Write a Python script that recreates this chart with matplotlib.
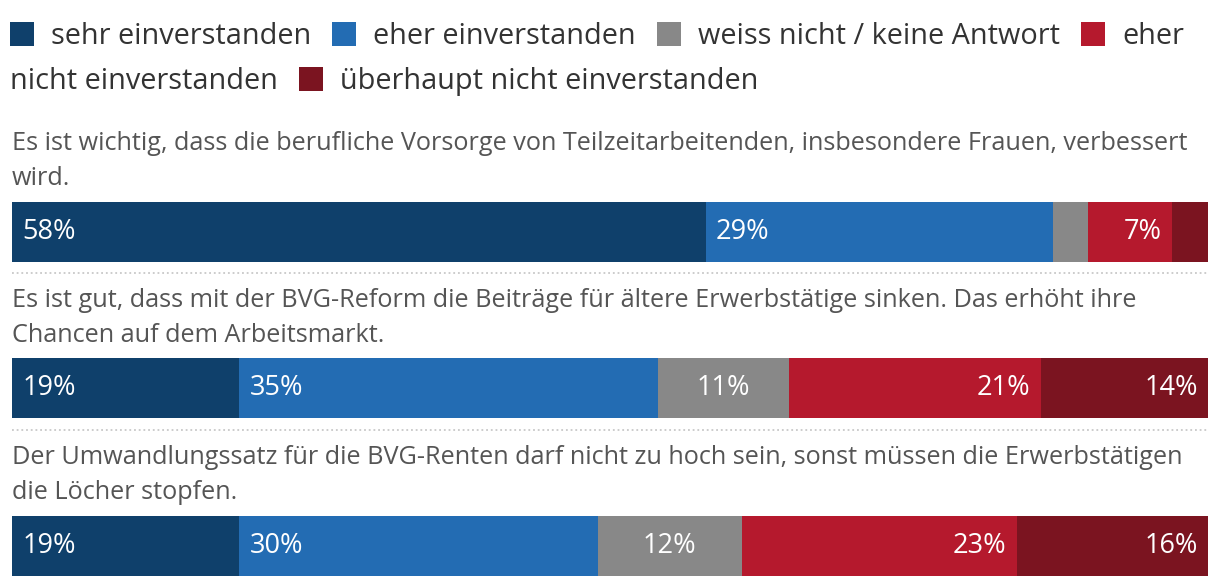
import matplotlib
matplotlib.use("Agg")
import matplotlib.pyplot as plt
from matplotlib.patches import Rectangle

plt.rcParams['font.family'] = ['Open Sans', 'DejaVu Sans']

categories = ["sehr einverstanden", "eher einverstanden", "weiss nicht / keine Antwort",
              "eher nicht einverstanden", "überhaupt nicht einverstanden"]
colors = ["#0f406b", "#236cb3", "#888888", "#b5192d", "#7b1420"]

questions = [
    "Es ist wichtig, dass die berufliche Vorsorge von Teilzeitarbeitenden, insbesondere Frauen, verbessert\nwird.",
    "Es ist gut, dass mit der BVG-Reform die Beiträge für ältere Erwerbstätige sinken. Das erhöht ihre\nChancen auf dem Arbeitsmarkt.",
    "Der Umwandlungssatz für die BVG-Renten darf nicht zu hoch sein, sonst müssen die Erwerbstätigen\ndie Löcher stopfen.",
]
values = [
    [58, 29, 3, 7, 3],
    [19, 35, 11, 21, 14],
    [19, 30, 12, 23, 16],
]

W, H = 1220, 588
fig = plt.figure(figsize=(W / 100, H / 100), dpi=100)
ax = fig.add_axes([12 / W, 0, 1196 / W, 1])
ax.set_xlim(0, 100)
ax.set_ylim(H, 0)
ax.axis("off")

bar_centers = [232, 388, 546]
bar_h = 60
title_base = [150, 307, 464]   # baseline of first title line (px from top)
title_gap = 35
sep_y = [273, 430]
FS = 18.2
LBL_FS = 19.5
LEG_FS = 20.8

for qi, (q, vals) in enumerate(zip(questions, values)):
    left = 0
    yc = bar_centers[qi]
    for ci, v in enumerate(vals):
        ax.barh(yc, v, left=left, height=bar_h, color=colors[ci], linewidth=0)
        if v >= 5:
            if ci < 2:
                ax.text(left + 0.85, yc, f"{v}%", color="white", fontsize=LBL_FS,
                        va="center", ha="left")
            elif ci == 2:
                ax.text(left + v / 2, yc, f"{v}%", color="white", fontsize=LBL_FS,
                        va="center", ha="center")
            else:
                ax.text(left + v - 0.85, yc, f"{v}%", color="white", fontsize=LBL_FS,
                        va="center", ha="right")
        left += v
    for li, line in enumerate(q.split("\n")):
        fig.text(12 / W, 1 - (title_base[qi] + li * title_gap) / H, line, fontsize=FS,
                 color="#555555", va="baseline", ha="left")

for y in sep_y:
    ax.plot([0, 100], [y, y], color="#c8c8c8", linestyle=(0, (1, 1.6)), linewidth=1.3)

# legend (manual flow layout, wraps like reference)
fig.canvas.draw()
renderer = fig.canvas.get_renderer()
rows_base = [44, 89]
x = 10
row = 0
sq = 24
items = [(colors[0], [categories[0]]), (colors[1], [categories[1]]), (colors[2], [categories[2]]),
         (colors[3], ["eher", "nicht einverstanden"]), (colors[4], [categories[4]])]
for col, parts in items:
    fig.patches.append(Rectangle((x / W, 1 - (rows_base[row] + 2) / H), sq / W, sq / H,
                                 transform=fig.transFigure, facecolor=col, edgecolor="none"))
    x += sq + 17
    for pi, part in enumerate(parts):
        if pi > 0:
            row += 1
            x = 10
        t = fig.text(x / W, 1 - rows_base[row] / H, part, fontsize=LEG_FS, color="#333333",
                     va="baseline", ha="left")
        bb = t.get_window_extent(renderer)
        x += bb.width
    x += 21

fig.savefig("out.png", dpi=100)
